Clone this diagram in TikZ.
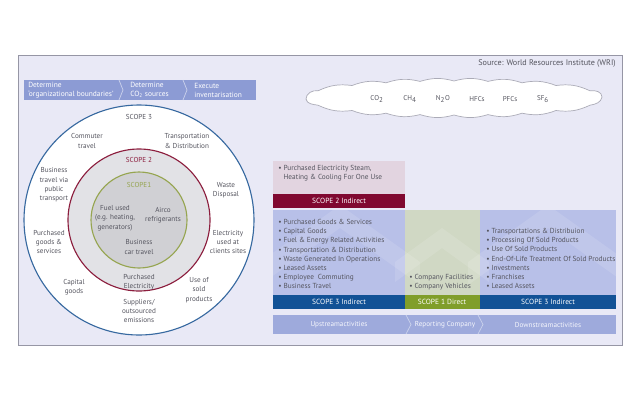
\documentclass[tikz,border=0pt]{standalone}
\usepackage{fontspec}
\setmainfont{PT Sans}
\usetikzlibrary{positioning, calc}
\definecolor{mybg}{RGB}{233,233,246}
\definecolor{myframe}{RGB}{150,150,165}
\definecolor{mytext}{RGB}{85,85,95}
\definecolor{mybar}{RGB}{140,155,212}
\definecolor{mybarlight}{RGB}{158,170,220}
\definecolor{myblue}{RGB}{55,105,160}
\definecolor{myred}{RGB}{140,30,62}
\definecolor{mygreen}{RGB}{150,165,80}
\definecolor{ringgray}{RGB}{226,226,230}
\definecolor{coregray}{RGB}{208,208,212}
\definecolor{hdrred}{RGB}{226,212,224}
\definecolor{hdrblue}{RGB}{184,192,232}
\definecolor{hdrgreen}{RGB}{208,216,196}
\definecolor{barred}{RGB}{128,8,48}
\definecolor{barblue}{RGB}{18,82,150}
\definecolor{bargreen}{RGB}{128,158,42}
\tikzset{
  ringlabel/.style={align=center, font=\fontsize{5.1}{6.6}\selectfont,
    text=mytext, inner sep=0pt},
  steplabel/.style={align=left, anchor=west, font=\fontsize{5.3}{6.4}\selectfont,
    text=white, inner sep=0pt},
  gas/.style={font=\fontsize{5.0}{6}\selectfont, text=mytext, inner sep=0pt},
  bulletlist/.style={align=left, anchor=north west, font=\fontsize{5.2}{6.55}\selectfont,
    text=mytext, inner sep=0pt},
  scopebar/.style={font=\fontsize{5.3}{7}\selectfont, text=white, inner sep=0pt},
  flowlabel/.style={font=\fontsize{5.1}{7}\selectfont, text=white!92!mybar, inner sep=0pt},
  sep/.style={draw=white!55!mybar, line width=0.5pt},
  ghost/.style={fill=white, fill opacity=0.12},
  puff/.style={bend left=16}
}
\begin{document}
\begin{tikzpicture}[x=0.25mm, y=-0.25mm]
  \useasboundingbox (0,0) rectangle (640,400);
  \fill[white] (0,0) rectangle (640,400);
  % frame
  \draw[fill=mybg, draw=myframe, line width=0.6pt] (18,55) rectangle (622,345);
  \node[font=\fontsize{5.8}{7}\selectfont, text=mytext, anchor=east, inner sep=0pt]
    (source) at (616,63) {Source: World Resources Institute (WRI)};

  % steps bar
  \fill[mybar] (24,80) rectangle (256,100);
  \draw[sep] (119,80) -- (123,90) -- (119,100);
  \draw[sep] (183,80) -- (187,90) -- (183,100);
  \node[steplabel] (step1) at (28,90) {Determine\\‘organizational boundaries’};
  \node[steplabel] (step2) at (130,90) {Determine\\CO\textsubscript{2} sources};
  \node[steplabel] (step3) at (194,90) {Execute\\inventarisation};

  % scope circles
  \coordinate (c) at (139,220);
  \draw[myblue, fill=white, line width=0.8pt] (c) circle (115);
  \draw[myred, fill=ringgray, line width=0.8pt] (c) circle (71);
  \draw[mygreen, fill=coregray, line width=0.8pt] (c) circle (48);
  \node[ringlabel, text=mytext] (s3) at (139,117) {SCOPE 3};
  \node[ringlabel, text=myred] (s2) at (139,160) {SCOPE 2};
  \node[ringlabel, text=mygreen] (s1) at (139,185) {SCOPE1};
  % scope 1
  \node[ringlabel] (fuel) at (115,218) {Fuel used\\(e.g. heating,\\generators)};
  \node[ringlabel] (airco) at (163,215) {Airco\\refrigerants};
  \node[ringlabel] (car) at (139,247) {Business\\car travel};
  % scope 2
  \node[ringlabel] (elec) at (139,282) {Purchased\\Electricity};
  % scope 3
  \node[ringlabel] (commute) at (87,141) {Commuter\\travel};
  \node[ringlabel] (transp) at (187,141) {Transportation\\\& Distribution};
  \node[ringlabel] (bustravel) at (54,185) {Business\\travel via\\public\\transport};
  \node[ringlabel] (waste) at (226,190) {Waste\\Disposal};
  \node[ringlabel] (goods) at (49,242) {Purchased\\goods \&\\services};
  \node[ringlabel] (clients) at (228,242) {Electricity\\used at\\clients sites};
  \node[ringlabel] (capital) at (74,287) {Capital\\goods};
  \node[ringlabel] (sold) at (199,290) {Use of\\sold\\products};
  \node[ringlabel] (suppl) at (139,311) {Suppliers/\\outsourced\\emissions};

  % greenhouse gases
  \draw[draw=myframe!80!white, fill=white, line width=0.5pt]
    (318,90.8) to[puff] (352,85.5) to[puff] (386,82.8)
    to[puff] (420,81.4) to[puff] (454,81) to[puff] (488,81.4)
    to[puff] (522,82.8) to[puff] (556,85.5) to[puff] (590,90.8)
    to[out=10, in=90] (602,97) to[out=-100, in=10] (590,105.2)
    to[puff] (556,110.5) to[puff] (522,113.2) to[puff] (488,114.6)
    to[puff] (454,115) to[puff] (420,114.6) to[puff] (386,113.2)
    to[puff] (352,110.5) to[puff] (318,105.2)
    to[out=170, in=-80] (306,99) to[out=90, in=170] (318,90.8) -- cycle;
  \node[gas] (co2) at (377,99) {CO\textsubscript{2}};
  \node[gas] (ch4) at (410,99) {CH\textsubscript{4}};
  \node[gas] (n2o) at (443,99) {N\textsubscript{2}O};
  \node[gas] (hfc) at (477,99) {HFCs};
  \node[gas] (pfc) at (510,99) {PFCs};
  \node[gas] (sf6) at (543,99) {SF\textsubscript{6}};

  % scope blocks
  \fill[hdrred] (273,161) rectangle (405,194);
  \fill[barred] (273,194) rectangle (405,208);
  \fill[hdrblue] (273,210) rectangle (405,295);
  \fill[hdrgreen] (405,210) rectangle (480,295);
  \fill[hdrblue] (480,210) rectangle (616,295);
  \fill[barblue] (273,295) rectangle (405,309);
  \fill[bargreen] (405,295) rectangle (480,309);
  \fill[barblue] (480,295) rectangle (616,309);
  % faint chevrons
  \begin{scope}
    \clip (273,210) rectangle (616,295);
    \fill[ghost] (260,262) -- (340,205) -- (420,262) -- (420,285) -- (340,228) -- (260,285) -- cycle;
    \fill[ghost] (395,262) -- (442,228) -- (489,262) -- (489,282) -- (442,248) -- (395,282) -- cycle;
    \fill[ghost] (468,262) -- (548,205) -- (628,262) -- (628,285) -- (548,228) -- (468,285) -- cycle;
  \end{scope}
  \node[bulletlist] (list2) at (278,165) {• Purchased Electricity Steam,\\\phantom{• }Heating \& Cooling For One Use};
  \node[scopebar] (bar2) at (339,201) {SCOPE 2 Indirect};
  \node[bulletlist] (listup) at (278,219) {• Purchased Goods \& Services\\• Capital Goods\\• Fuel \& Energy Related Activities\\• Transportation \& Distribution\\• Waste Generated In Operations\\• Leased Assets\\• Employee\ \ Commuting\\• Business Travel};
  \node[bulletlist] (list1) at (409,274) {• Company Facilities\\• Company Vehicles};
  \node[bulletlist] (listdown) at (486,228) {• Transportations \& Distribuion\\• Processing Of Sold Products\\• Use Of Sold Products\\• End-Of-Life Treatment Of Sold Products\\• Investments\\• Franchises\\• Leased Assets};
  \node[scopebar] (bar3a) at (339,302) {SCOPE 3 Indirect};
  \node[scopebar] (bar1) at (442,302) {SCOPE 1 Direct};
  \node[scopebar] (bar3b) at (548,302) {SCOPE 3 Indirect};

  % value chain bar
  \fill[mybarlight] (273,315) rectangle (616,334);
  \draw[sep] (406,315) -- (411,324.5) -- (406,334);
  \draw[sep] (478,315) -- (483,324.5) -- (478,334);
  \node[flowlabel] (up) at (339,324.5) {Upstreamactivities};
  \node[flowlabel] (rep) at (445,324.5) {Reporting Company};
  \node[flowlabel] (down) at (548,324.5) {Downstreamactivities};
\end{tikzpicture}
\end{document}
